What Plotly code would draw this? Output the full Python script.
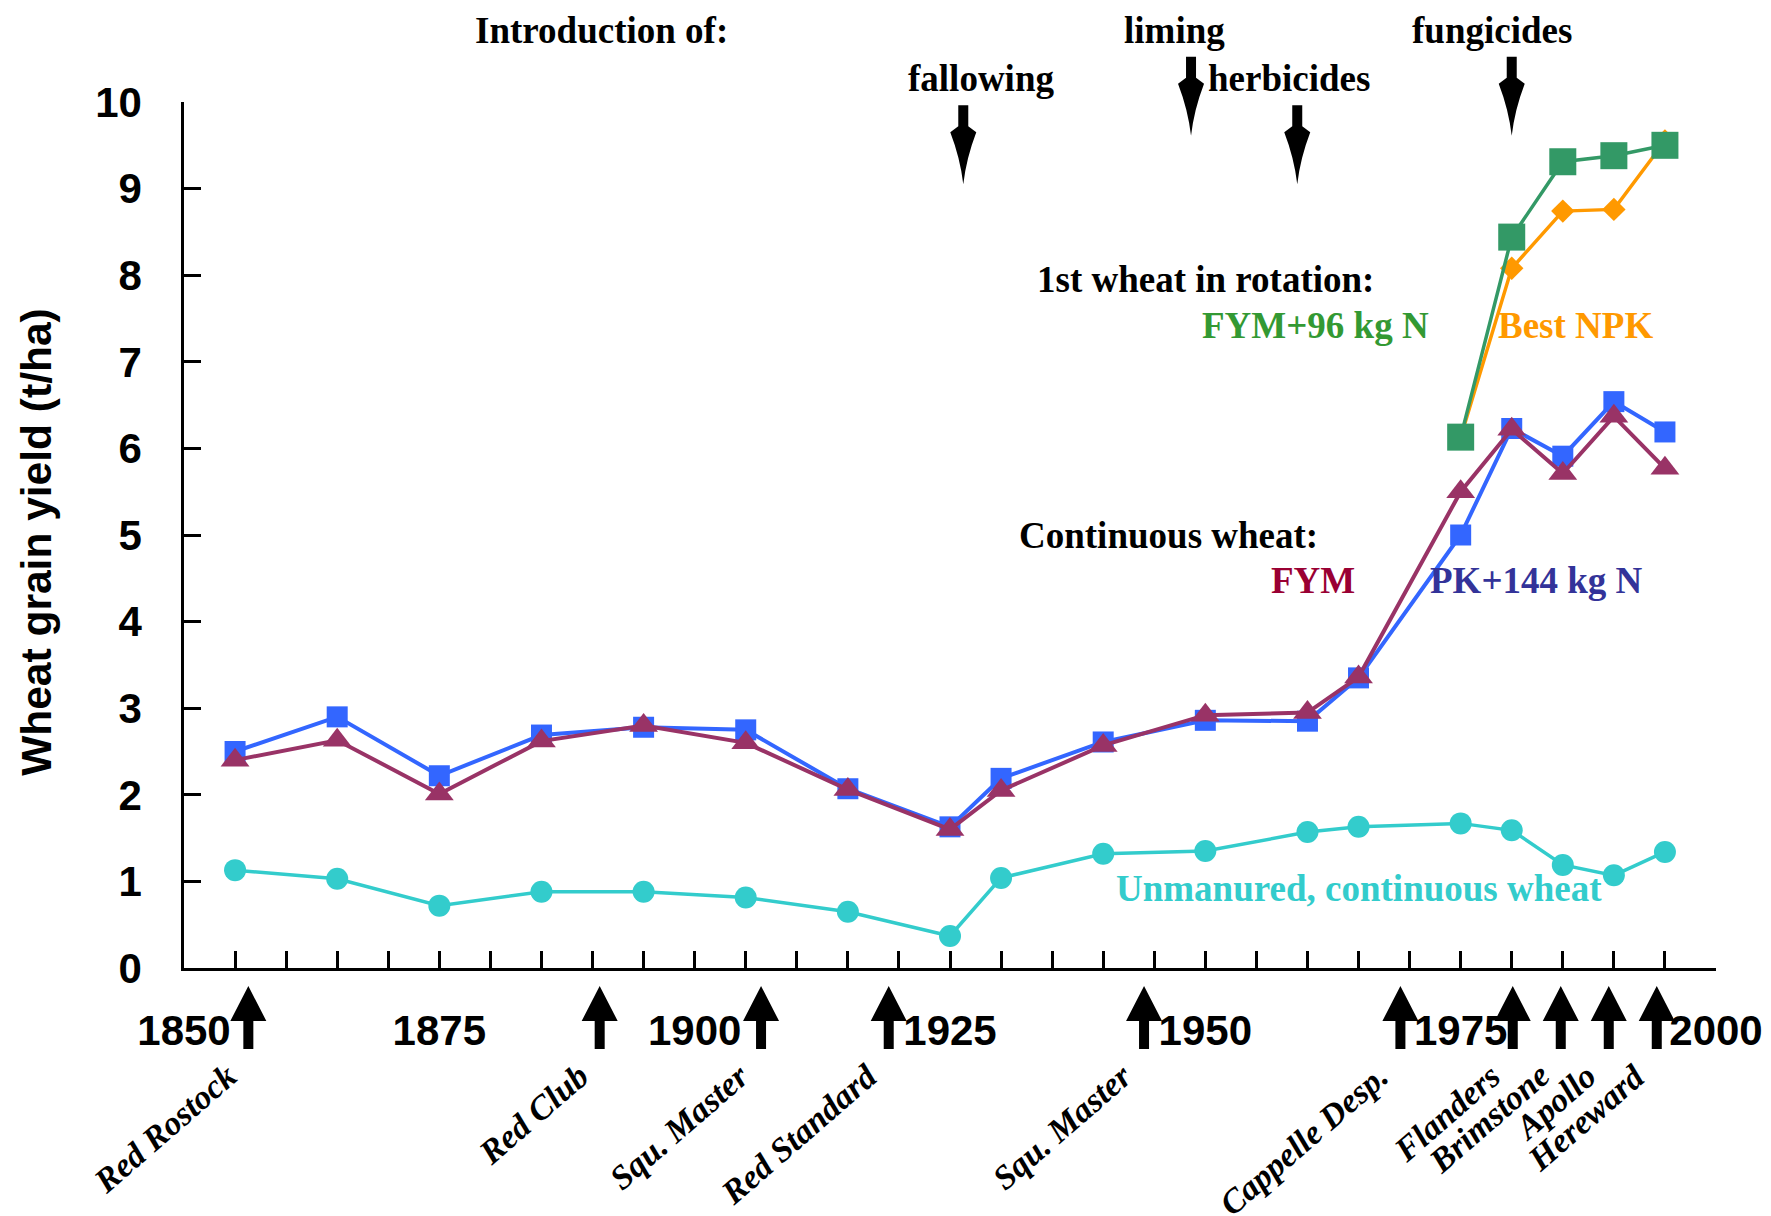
import plotly.graph_objects as go

# ---------------- data ----------------
years = [1855, 1865, 1875, 1885, 1895, 1905, 1915, 1925, 1930, 1940,
         1950, 1960, 1965, 1975, 1980, 1985, 1990, 1995]
pk144 = [2.50, 2.90, 2.22, 2.69, 2.78, 2.75, 2.07, 1.63, 2.19, 2.61,
         2.86, 2.85, 3.35, 5.00, 6.23, 5.91, 6.54, 6.19]
fym = [2.40, 2.63, 2.01, 2.62, 2.80, 2.60, 2.06, 1.60, 2.05, 2.57,
       2.92, 2.95, 3.36, 5.50, 6.22, 5.71, 6.37, 5.77]
unmanured = [1.13, 1.03, 0.72, 0.88, 0.88, 0.815, 0.65, 0.37, 1.04, 1.32,
             1.35, 1.57, 1.63, 1.67, 1.59, 1.19, 1.07, 1.34]

rot_years = [1975, 1980, 1985, 1990, 1995]
fym96 = [6.13, 8.44, 9.31, 9.38, 9.50]
best_npk = [6.13, 8.08, 8.74, 8.76, 9.55]

variety_years = [1856.3, 1890.7, 1906.5, 1919.0, 1944.0, 1969.1,
                 1980.1, 1984.8, 1989.5, 1994.2]
variety_names = ["Red Rostock", "Red Club", "Squ. Master", "Red Standard",
                 "Squ. Master", "Cappelle Desp.", "Flanders", "Brimstone",
                 "Apollo", "Hereward"]

practice_names = ["fallowing", "liming", "herbicides", "fungicides"]
practice_years = [1926.3, 1948.6, 1959.0, 1980.0]
practice_label_years = [1928.0, 1947.0, 1958.2, 1978.1]
practice_label_y = [10.27, 10.82, 10.27, 10.82]
practice_tip_y = [9.05, 9.61, 9.05, 9.61]

x_ticks = list(range(1850, 2001, 5))
x_ticktext = [str(v) if v % 25 == 0 else "" for v in x_ticks]
y_ticks = list(range(0, 11))

XMIN, XMAX, YMIN, YMAX = 1850, 2000, 0, 10

# ---------------- style ----------------
BLUE = "#3366ff"
MAROON = "#993366"
CYAN = "#33cccc"
GREEN = "#339966"
ORANGE = "#ff9900"
SANS = "Liberation Sans, Arial, sans-serif"
SERIF = "Liberation Serif, Times New Roman, serif"

fig = go.Figure()

fig.add_trace(go.Scatter(x=years, y=unmanured, mode="lines+markers",
                         line=dict(color=CYAN, width=3.5),
                         marker=dict(symbol="circle", size=22, color=CYAN),
                         showlegend=False))
fig.add_trace(go.Scatter(x=years, y=pk144, mode="lines+markers",
                         line=dict(color=BLUE, width=4),
                         marker=dict(symbol="square", size=21, color=BLUE),
                         showlegend=False))
fig.add_trace(go.Scatter(x=years, y=fym, mode="lines+markers",
                         line=dict(color=MAROON, width=4),
                         marker=dict(symbol="triangle-up", size=25, color=MAROON),
                         showlegend=False))
fig.add_trace(go.Scatter(x=rot_years, y=best_npk, mode="lines+markers",
                         line=dict(color=ORANGE, width=3.5),
                         marker=dict(symbol="diamond", size=18, color=ORANGE),
                         showlegend=False))
fig.add_trace(go.Scatter(x=rot_years, y=fym96, mode="lines+markers",
                         line=dict(color=GREEN, width=3.5),
                         marker=dict(symbol="square", size=27, color=GREEN),
                         showlegend=False))

PLOT_H = 866

shapes = []
# up arrows (variety introductions) below the x axis
up_path = ("M 0,-18 L 18,-53 L 5,-53 L 5,-81 L -5,-81 "
           "L -5,-53 L -18,-53 Z")
for vy in variety_years:
    shapes.append(dict(type="path", xref="x", yref="paper",
                       xsizemode="pixel", ysizemode="pixel",
                       xanchor=vy, yanchor=0, path=up_path,
                       fillcolor="black", line=dict(width=0)))
# down arrows (practices)
down_path = ("M -5,79 L -5,58 L -13,52 Q -3,26 0,0 Q 3,26 13,52 "
             "L 5,58 L 5,79 Z")
for py, ty in zip(practice_years, practice_tip_y):
    shapes.append(dict(type="path", xref="x", yref="paper",
                       xsizemode="pixel", ysizemode="pixel",
                       xanchor=py, yanchor=(ty - YMIN) / (YMAX - YMIN),
                       path=down_path, fillcolor="black", line=dict(width=0)))

annotations = []
serif_b = dict(family=SERIF, size=37, color="black", weight="bold")

annotations.append(dict(text="Introduction of:", x=1890.9, y=10.82 / YMAX,
                        xref="x", yref="paper", showarrow=False,
                        font=serif_b, xanchor="center", yanchor="middle"))
for name, lx, ly in zip(practice_names, practice_label_years, practice_label_y):
    annotations.append(dict(text=name, x=lx, y=ly / YMAX, xref="x", yref="paper",
                            showarrow=False, font=serif_b,
                            xanchor="center", yanchor="middle"))

in_plot = [
    ("1st wheat in rotation:", 1950.0, 7.95, "black"),
    ("FYM+96 kg N", 1960.8, 7.42, "#339933"),
    ("Best NPK", 1986.2, 7.42, ORANGE),
    ("Continuous wheat:", 1946.4, 4.99, "black"),
    ("FYM", 1960.5, 4.47, "#990033"),
    ("PK+144 kg N", 1982.4, 4.47, "#333399"),
    ("Unmanured, continuous wheat", 1965.0, 0.92, CYAN),
]
for txt, tx, ty, col in in_plot:
    annotations.append(dict(text=txt, x=tx, y=ty, xref="x", yref="y",
                            showarrow=False,
                            font=dict(family=SERIF, size=37, color=col,
                                      weight="bold"),
                            xanchor="center", yanchor="middle"))

# variety labels (rotated)
for name, vy in zip(variety_names, variety_years):
    annotations.append(dict(text=name, x=vy, y=-86 / PLOT_H, xref="x",
                            yref="paper", showarrow=False, textangle=-41,
                            xshift=-2,
                            font=dict(family=SERIF, size=34, color="black",
                                      weight="bold", style="italic"),
                            xanchor="right", yanchor="top"))

# y-axis title
annotations.append(dict(text="Wheat grain yield (t/ha)", x=-0.096, y=0.492,
                        xref="paper", yref="paper", showarrow=False,
                        textangle=-90,
                        font=dict(family=SANS, size=42.5, color="black",
                                  weight="bold"),
                        xanchor="center", yanchor="middle"))

fig.update_layout(
    width=1771, height=1216,
    margin=dict(l=176, r=63, t=94, b=256),
    paper_bgcolor="white", plot_bgcolor="white",
    shapes=shapes, annotations=annotations,
    xaxis=dict(range=[XMIN, XMAX], tickvals=x_ticks, ticktext=x_ticktext,
               ticks="inside", ticklen=17, tickwidth=2.5, tickcolor="black",
               showline=True, linecolor="black", linewidth=2.5,
               showgrid=False, zeroline=False, ticklabelstandoff=24,
               tickfont=dict(family=SANS, size=42, color="black",
                             weight="bold")),
    yaxis=dict(range=[YMIN, YMAX], tickvals=y_ticks,
               ticks="inside", ticklen=17, tickwidth=2.5, tickcolor="black",
               showline=True, linecolor="black", linewidth=2.5,
               showgrid=False, zeroline=False, ticklabelstandoff=31,
               tickfont=dict(family=SANS, size=42, color="black",
                             weight="bold")),
)

fig.write_html("out.html")
